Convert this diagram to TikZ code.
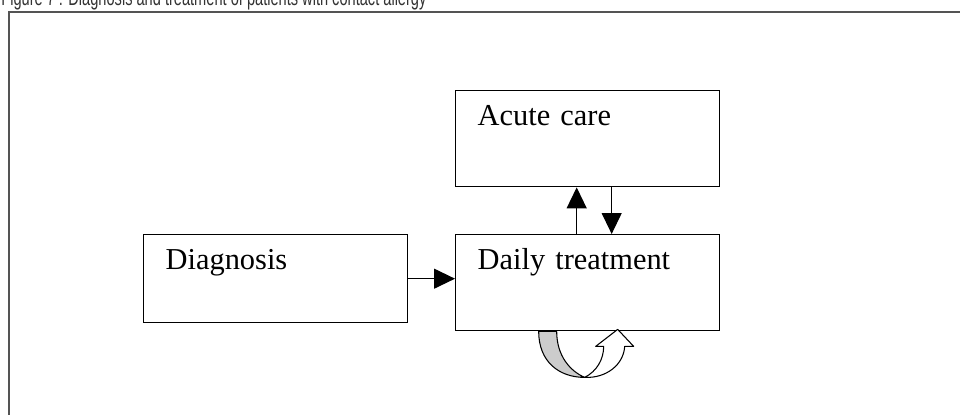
\documentclass[tikz,border=0pt]{standalone}
\usepackage{fontspec}
\setmainfont{Liberation Serif}
\newfontfamily\captionfont[FakeStretch=0.665]{Liberation Sans}
\usepackage{xcolor}
\definecolor{frame}{rgb}{0.33,0.33,0.33}
\definecolor{caption}{rgb}{0.2,0.2,0.2}
\definecolor{loopgray}{rgb}{0.8,0.8,0.8}
\usetikzlibrary{arrows.meta,positioning}
\tikzset{
  stage/.style={rectangle, draw=black, line width=0.8pt, anchor=north west,
    inner xsep=0.44cm, inner ysep=0pt, text width=4.4cm, align=left,
    text height=0.7cm, font=\fontsize{17.3}{20}\selectfont},
  line/.style={draw, line width=0.7pt, -{Triangle[length=0.42cm,width=0.4cm]}},
  loop/.style={draw=black, line width=0.6pt, line join=round},
  outer/.style={draw=frame, line width=1.1pt},
}

\begin{document}
\begin{tikzpicture}[x=0.02cm,y=-0.02cm]
    \useasboundingbox (0,0) rectangle (960,415);

    \node[anchor=base west,inner sep=0pt,text=caption,font=\captionfont\fontsize{12.5}{14}\selectfont] (title) at (1,6)
      {Figure 7 : Diagnosis and treatment of patients with contact allergy};
    \path[outer] (9,12) rectangle (975,430);

    \node[stage,text depth=1.06cm] (diag) at (143,234) {Diagnosis};
    \node[stage,text depth=1.22cm] (acute) at (455,90) {Acute care};
    \node[stage,text depth=1.22cm] (daily) at (455,234) {Daily treatment};

    \begin{scope} [every path/.style=line]
      \path (diag.east) -- (diag.east -| daily.west);
      \path ([xshift=-0.22cm]daily.north) -- ([xshift=-0.22cm]acute.south);
      \path ([xshift=0.48cm]acute.south) -- ([xshift=0.48cm]daily.north);
    \end{scope}

    % curved arrow under daily treatment
    \begin{scope}[shift={(daily.south)}]
      \path[loop,fill=loopgray] (-49,0) -- (-31,0) .. controls (-31,25) and (-17,40) .. (-3,46)
        .. controls (-29,46) and (-49,30) .. (-49,0) -- cycle;
      \path[loop,fill=white] (-3,46) .. controls (9,40) and (16,28) .. (16,15) -- (8,15) -- (30,-2)
        -- (46,15) -- (37,15) .. controls (36,33) and (19,47) .. (-3,46) -- cycle;
    \end{scope}
\end{tikzpicture}
\end{document}
